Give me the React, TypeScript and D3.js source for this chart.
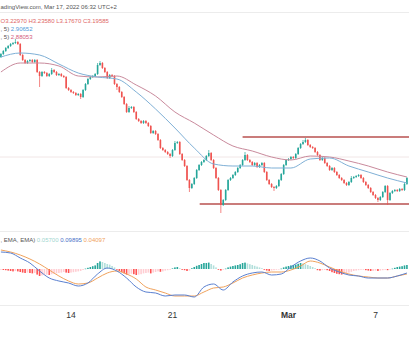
import React from "react";
import * as d3 from "d3";

const W = 409;
const H = 344;

// 4h candles, first one at Feb 9 04:00 UTC
const startTime = Date.UTC(2022, 1, 9, 4);
const stepMs = 4 * 3600 * 1000;
const firstOpen = 4.41;

const closes = [
  4.44, 4.47, 4.5, 4.52, 4.54, 4.55, 4.56, 4.54, 4.43, 4.38,
  4.35, 4.37, 4.38, 4.36, 4.38, 4.26, 4.22, 4.26, 4.25, 4.22,
  4.24, 4.28, 4.26, 4.23, 4.24, 4.22, 4.21, 4.1, 4.08, 4.06,
  4.05, 4.03, 4.04, 4.01, 4.08, 4.14, 4.19, 4.21, 4.22, 4.24,
  4.33, 4.35, 4.3, 4.26, 4.2, 4.23, 4.22, 4.14, 4.11, 4.06,
  4.01, 3.94, 3.86, 3.9, 3.91, 3.86, 3.79, 3.77, 3.75, 3.77,
  3.75, 3.72, 3.65, 3.67, 3.64, 3.58, 3.5, 3.48, 3.46, 3.44,
  3.42, 3.48, 3.55, 3.56, 3.44, 3.38, 3.32, 3.18, 3.1, 3.14,
  3.2, 3.28, 3.33, 3.36, 3.38, 3.42, 3.45, 3.38, 3.3, 3.2,
  3.08, 2.93, 2.98, 3.08, 3.18, 3.2, 3.23, 3.26, 3.3, 3.33,
  3.38, 3.43, 3.38, 3.36, 3.33, 3.35, 3.31, 3.33, 3.35, 3.26,
  3.18, 3.14, 3.11, 3.1, 3.12, 3.18, 3.24, 3.33, 3.38, 3.39,
  3.41, 3.4, 3.44, 3.5, 3.54, 3.56, 3.58, 3.53, 3.51, 3.5,
  3.46, 3.43, 3.38, 3.4, 3.35, 3.32, 3.28, 3.3, 3.26, 3.23,
  3.2, 3.18, 3.15, 3.13, 3.16, 3.2, 3.21, 3.22, 3.23, 3.2,
  3.16, 3.13, 3.1, 3.06, 3.03, 3.0, 2.98, 3.01, 3.06, 3.12,
  2.98, 3.05, 3.07, 3.08, 3.07, 3.09, 3.08, 3.14, 3.2,
];

const wickHigh = [
  .01, .01, .01, .01, .01, .01, .03, .01, .01, .01,
  .01, .01, .01, .01, .01, .01, .01, .01, .01, .01,
  .01, .02, .01, .01, .01, .01, .01, .01, .01, .01,
  .01, .01, .01, .01, .01, .01, .01, .01, .01, .01,
  .02, .02, .01, .01, .01, .01, .01, .01, .01, .01,
  .01, .01, .01, .02, .01, .01, .01, .01, .01, .01,
  .01, .01, .01, .01, .01, .01, .01, .01, .01, .01,
  .01, .01, .02, .01, .01, .01, .01, .01, .01, .01,
  .01, .01, .01, .01, .01, .01, .03, .01, .01, .01,
  .01, .01, .01, .01, .01, .01, .01, .01, .01, .01,
  .01, .03, .01, .01, .01, .01, .01, .01, .01, .01,
  .01, .01, .01, .01, .01, .01, .01, .01, .01, .01,
  .01, .01, .01, .01, .01, .02, .02, .01, .01, .01,
  .01, .01, .01, .01, .01, .01, .01, .01, .01, .01,
  .01, .01, .01, .01, .01, .02, .01, .01, .01, .01,
  .01, .01, .01, .01, .01, .01, .01, .01, .01, .01,
  .01, .01, .01, .01, .01, .01, .01, .02, .01,
];

const wickLow = [
  .01, .01, .01, .01, .01, .01, .01, .01, .01, .01,
  .01, .01, .01, .01, .01, .01, .11, .01, .01, .01,
  .01, .01, .01, .01, .01, .01, .01, .01, .01, .01,
  .01, .01, .01, .02, .01, .01, .01, .01, .01, .01,
  .01, .01, .01, .01, .01, .01, .01, .01, .03, .01,
  .01, .01, .01, .01, .01, .01, .01, .01, .01, .01,
  .01, .01, .01, .01, .01, .01, .01, .01, .01, .01,
  .02, .01, .01, .01, .01, .01, .01, .01, .04, .01,
  .01, .01, .01, .01, .01, .01, .01, .01, .01, .01,
  .01, .08, .01, .01, .01, .01, .01, .01, .01, .01,
  .01, .01, .01, .01, .01, .01, .01, .01, .01, .01,
  .01, .01, .01, .03, .01, .01, .01, .01, .01, .01,
  .01, .01, .01, .01, .01, .01, .01, .01, .01, .01,
  .01, .01, .01, .01, .01, .01, .01, .01, .01, .01,
  .01, .01, .01, .01, .01, .01, .01, .01, .01, .01,
  .01, .01, .01, .01, .01, .01, .02, .01, .01, .01,
  .05, .01, .01, .01, .01, .01, .01, .01, .01,
];

// EMA values read every 8 candles
const emaStep = 8;
const emaFast = [4.41, 4.45, 4.43, 4.34, 4.25, 4.21, 4.19, 4.06, 3.89, 3.7, 3.5, 3.34, 3.32, 3.32, 3.3, 3.3, 3.39, 3.4, 3.32, 3.26, 3.2, 3.15];
const emaSlow = [4.26, 4.35, 4.35, 4.32, 4.22, 4.21, 4.22, 4.13, 4.02, 3.86, 3.75, 3.63, 3.52, 3.47, 3.41, 3.38, 3.42, 3.41, 3.37, 3.32, 3.26, 3.21];

// MACD values read every 4 candles
const macdStep = 4;
const macdLine = [.085, .08, .055, .03, -.01, -.045, -.06, -.07, -.085, -.07, -.025, .005, -.01, -.045, -.09, -.115, -.12, -.135, -.13, -.13, -.14, -.09, -.075, -.105, -.065, -.035, -.02, -.015, -.03, -.025, .01, .04, .055, .04, .005, -.015, -.03, -.035, -.045, -.045, -.045, -.035, -.02];
const signalLine = [.095, .085, .07, .05, .025, -.005, -.035, -.06, -.075, -.07, -.045, -.02, -.01, -.025, -.05, -.09, -.105, -.12, -.135, -.135, -.135, -.115, -.095, -.09, -.07, -.045, -.03, -.02, -.015, -.015, -.005, .015, .04, .03, .01, -.01, -.025, -.035, -.04, -.045, -.045, -.035, -.025];

const histogram = [
  -.004, -.005, -.006, -.008, -.01, -.012, -.01, -.012, -.015, -.018,
  -.02, -.018, -.02, -.022, -.02, -.028, -.035, -.032, -.03, -.028,
  -.03, -.026, -.024, -.022, -.02, -.018, -.015, -.018, -.02, -.018,
  -.016, -.014, -.012, -.01, -.005, .002, .006, .01, .014, .018,
  .03, .038, .035, .03, .025, .022, .015, .008, -.004, -.01,
  -.016, -.022, -.028, -.026, -.024, -.026, -.03, -.028, -.026, -.022,
  -.02, -.018, -.022, -.018, -.015, -.012, -.014, -.012, -.008, -.006,
  -.004, .003, .008, .01, .004, -.004, -.006, -.01, -.008, .004,
  .01, .016, .02, .025, .03, .03, .032, .025, .018, .008,
  -.004, -.008, -.004, .002, .008, .012, .015, .018, .02, .024,
  .03, .032, .028, .024, .02, .016, .012, .008, .004, -.004,
  -.008, -.01, -.008, -.006, -.004, -.002, .002, .008, .012, .015,
  .018, .02, .022, .026, .03, .028, .024, .02, .015, .01,
  .004, -.006, -.008, -.006, -.005, -.006, -.01, -.016, -.02, -.024,
  -.026, -.028, -.026, -.022, -.018, -.014, -.01, -.008, -.006, -.004,
  -.004, -.006, -.008, -.01, -.01, -.008, -.01, -.008, -.006, -.004,
  -.006, -.002, .002, .006, .01, .012, .014, .018, .02,
];

const tickDates = [Date.UTC(2022, 1, 14), Date.UTC(2022, 1, 21), Date.UTC(2022, 2, 1), Date.UTC(2022, 2, 7)];
const tickLabels = ["14", "21", "Mar", "7"];
const tickBold = [false, false, true, false];

const levelPrices = [3.61, 2.94];
const levelStarts = [Date.UTC(2022, 1, 25, 20), Date.UTC(2022, 1, 22, 21)];
const gridPrice = 3.41;

const GREEN = "#26a69a";
const RED = "#ef5350";
const FONT = "'Liberation Sans', Arial, sans-serif";

export default function App() {
  const x = d3
    .scaleUtc()
    .domain([new Date(tickDates[0]), new Date(tickDates[3])])
    .range([71, 375.5]);
  const y = d3.scaleLinear().domain([2.7, 4.86]).range([228, 12]);
  const ym = d3.scaleLinear().domain([-0.18, 0.185]).range([305, 232]);
  const tAt = (i: number) => new Date(startTime + i * stepMs);

  const candles = closes.map((c, i) => {
    const o = i === 0 ? firstOpen : closes[i - 1];
    const hi = Math.max(o, c) + wickHigh[i];
    const lo = Math.min(o, c) - wickLow[i];
    return { t: tAt(i), o, c, hi, lo };
  });

  const lineP = d3
    .line<number>()
    .x((_, k) => x(tAt(k * emaStep)))
    .y((v) => y(v))
    .curve(d3.curveMonotoneX);
  const lineM = d3
    .line<number>()
    .x((_, k) => x(tAt(k * macdStep)))
    .y((v) => ym(v))
    .curve(d3.curveMonotoneX);

  const bw = 1.6;

  return (
    <svg
      width={W}
      height={H}
      style={{ position: "fixed", left: 0, top: 0, background: "#fff" }}
      fontFamily={FONT}
    >
      <rect x={0} y={0} width={W} height={H} fill="#fff" />
      {/* separators */}
      <line x1={0} x2={W} y1={12.5} y2={12.5} stroke="#ececec" />
      <line x1={0} x2={W} y1={y(gridPrice)} y2={y(gridPrice)} stroke="#f1e6e6" />
      <line x1={0} x2={W} y1={231.5} y2={231.5} stroke="#ececec" />
      <line x1={0} x2={W} y1={305.5} y2={305.5} stroke="#ececec" />

      {/* levels */}
      {levelPrices.map((p, k) => (
        <line
          key={"lv" + k}
          x1={x(new Date(levelStarts[k]))}
          x2={W}
          y1={y(p)}
          y2={y(p)}
          stroke="#b9504f"
          strokeWidth={1.4}
        />
      ))}

      {/* candles */}
      {candles.map((d, i) => {
        const cx = x(d.t);
        const up = d.c >= d.o;
        const col = up ? GREEN : RED;
        const top = y(Math.max(d.o, d.c));
        const bot = y(Math.min(d.o, d.c));
        return (
          <g key={"c" + i}>
            <line x1={cx} x2={cx} y1={y(d.hi)} y2={y(d.lo)} stroke={col} strokeWidth={0.7} />
            <rect x={cx - bw / 2} y={top} width={bw} height={Math.max(bot - top, 0.8)} fill={col} />
          </g>
        );
      })}

      {/* EMA lines */}
      <path d={lineP(emaSlow) || ""} fill="none" stroke="#c98a9c" strokeWidth={1} />
      <path d={lineP(emaFast) || ""} fill="none" stroke="#7fb0d6" strokeWidth={1} />

      {/* MACD histogram */}
      {histogram.map((h, i) => {
        const prev = i === 0 ? h : histogram[i - 1];
        let col;
        if (h >= 0) col = h >= prev ? GREEN : "#b2dfdb";
        else col = h < prev ? "#ff5252" : "#ffcdd2";
        const cx = x(tAt(i));
        const y0 = ym(0);
        const y1 = ym(h);
        return (
          <rect
            key={"h" + i}
            x={cx - 0.8}
            y={Math.min(y0, y1)}
            width={1.6}
            height={Math.max(Math.abs(y1 - y0), 0.6)}
            fill={col}
          />
        );
      })}
      <path d={lineM(signalLine) || ""} fill="none" stroke="#f0a25c" strokeWidth={1} />
      <path d={lineM(macdLine) || ""} fill="none" stroke="#5a80d0" strokeWidth={1} />

      {/* header texts */}
      <text x={0.5} y={8.5} fontSize={6} fill="#555">adingView.com, Mar 17, 2022 06:32 UTC+2</text>
      <text x={0.5} y={22.5} fontSize={6} fill="#e06666">
        O3.22970 H3.23580 L3.17670 C3.19585
      </text>
      <text x={0.5} y={31} fontSize={6}>
        <tspan fill="#555">, 5) </tspan>
        <tspan fill="#4f9bd9">2.90652</tspan>
      </text>
      <text x={0.5} y={39} fontSize={6}>
        <tspan fill="#555">, 5) </tspan>
        <tspan fill="#d4607e">2.88053</tspan>
      </text>
      <text x={0.5} y={242} fontSize={6}>
        <tspan fill="#555">, EMA, EMA) </tspan>
        <tspan fill="#9fd6cf">0.05700 </tspan>
        <tspan fill="#4a72c8"> 0.09895 </tspan>
        <tspan fill="#f0a25c"> 0.04097</tspan>
      </text>

      {/* x axis labels */}
      {tickDates.map((t, k) => (
        <text
          key={"t" + k}
          x={x(new Date(t))}
          y={318}
          fontSize={8.5}
          textAnchor="middle"
          fill="#333"
          fontWeight={tickBold[k] ? "bold" : "normal"}
        >
          {tickLabels[k]}
        </text>
      ))}
    </svg>
  );
}
